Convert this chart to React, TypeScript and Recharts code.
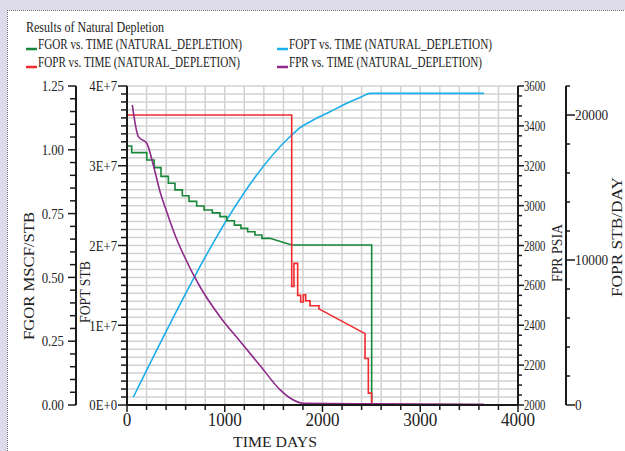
import { ComposedChart, Line, XAxis, YAxis, CartesianGrid } from "recharts";

const FONT = '"Liberation Serif", "Times New Roman", serif';

// FGOR (MSCF/STB); repeated days give the vertical parts of the steps
const fgorDays = [
  0, 48, 48, 202, 202, 279, 279, 348, 348, 423, 423, 491, 491, 566, 566, 634, 634, 713, 713, 788,
  788, 873, 873, 951, 951, 1020, 1020, 1098, 1098, 1166, 1166, 1234, 1234, 1309, 1309, 1380, 1380,
  1463, 1685, 2503, 2503,
];
const fgorValues = [
  1.015, 1.015, 0.989, 0.989, 0.96, 0.96, 0.93, 0.93, 0.896, 0.896, 0.869, 0.869, 0.843, 0.843,
  0.82, 0.82, 0.798, 0.798, 0.78, 0.78, 0.764, 0.764, 0.753, 0.753, 0.738, 0.738, 0.722, 0.722,
  0.705, 0.705, 0.692, 0.692, 0.679, 0.679, 0.666, 0.666, 0.653, 0.653, 0.627, 0.627, 0,
];

// FOPR (STB/DAY)
const foprDays = [
  0, 1685, 1685, 1708, 1708, 1746, 1746, 1777, 1777, 1804, 1804, 1828, 1828, 1872, 1872, 1964,
  1964, 2435, 2435, 2469, 2469, 2503, 2503,
];
const foprValues = [
  20000, 20000, 8180, 8180, 9770, 9770, 7560, 7560, 7100, 7100, 7600, 7600, 7190, 7190, 6850,
  6850, 6630, 4920, 3210, 3210, 820, 820, 0,
];

// FOPT (STB)
const foptDays = [64, 1685, 1770, 1906, 2077, 2248, 2401, 2486, 2503, 3652];
const foptValues = [0.97e6, 3.386e7, 3.477e7, 3.574e7, 3.678e7, 3.783e7, 3.866e7, 3.908e7, 3.908e7, 3.908e7];

// FPR (PSIA)
const fprDays = [54, 116, 202, 269, 338, 406, 491, 576, 747, 951, 1156, 1361, 1565, 1668, 1804, 2500, 3650];
const fprValues = [3505, 3346, 3313, 3204, 3070, 2970, 2853, 2756, 2593, 2443, 2320, 2198, 2077, 2035, 2009, 2006, 2004];

const timeLabels = [0, 1000, 2000, 3000, 4000];
const fgorLabels = [0, 0.25, 0.5, 0.75, 1.0, 1.25];
const foptLabels = [0, 1e7, 2e7, 3e7, 4e7];
const fprLabels = [2000, 2200, 2400, 2600, 2800, 3000, 3200, 3400, 3600];
const foprLabels = [0, 10000, 20000];

const legendItems = [
  { name: "FGOR vs. TIME (NATURAL_DEPLETION)", color: "#17873a", x: 26, y: 49, w: 204 },
  { name: "FOPR vs. TIME (NATURAL_DEPLETION)", color: "#f02a2e", x: 26, y: 67, w: 202 },
  { name: "FOPT vs. TIME (NATURAL_DEPLETION)", color: "#1aaeea", x: 277, y: 49, w: 203 },
  { name: "FPR vs. TIME (NATURAL_DEPLETION)", color: "#8e2a8a", x: 277, y: 67, w: 193 },
];

const pts = (days: number[], vals: number[]) => days.map((day, i) => ({ day, v: vals[i] }));
const range = (a: number, b: number, step: number) =>
  Array.from({ length: Math.round((b - a) / step) + 1 }, (_, i) => +(a + i * step).toFixed(6));

type TickOpts = {
  side: "left" | "right" | "bottom";
  majors: number[];
  fmt: (v: number) => string;
  major: number;
  minor: number;
  gap: number;
  size: number;
  sx: number;
};

function makeTick(o: TickOpts) {
  return (p: any) => {
    const { x, y, payload } = p;
    const v = payload.value as number;
    const isMajor = o.majors.some((m) => Math.abs(m - v) <= 1e-9 * Math.max(1, Math.abs(m)));
    const len = isMajor ? o.major : o.minor;
    if (o.side === "bottom") {
      return (
        <g>
          <line x1={x} x2={x} y1={y} y2={y + len} stroke="#1a1a1a" strokeWidth={1.5} />
          {isMajor && (
            <text
              transform={`translate(${x},${y + len + o.gap}) scale(${o.sx},1)`}
              textAnchor="middle"
              dy="0.8em"
              fontFamily={FONT}
              fontSize={o.size}
              fill="#222"
            >
              {o.fmt(v)}
            </text>
          )}
        </g>
      );
    }
    const dir = o.side === "left" ? -1 : 1;
    return (
      <g>
        <line x1={x} x2={x + dir * len} y1={y} y2={y} stroke="#1a1a1a" strokeWidth={1.5} />
        {isMajor && (
          <text
            transform={`translate(${x + dir * (len + o.gap)},${y}) scale(${o.sx},1)`}
            textAnchor={dir < 0 ? "end" : "start"}
            dy="0.35em"
            fontFamily={FONT}
            fontSize={o.size}
            fill="#222"
          >
            {o.fmt(v)}
          </text>
        )}
      </g>
    );
  };
}

const axisLine = { stroke: "#1a1a1a", strokeWidth: 2 };

export default function App() {
  return (
    <div style={{ position: "absolute", left: 0, top: 0, width: 625, height: 451, background: "#dedcea", overflow: "hidden" }}>
      <div
        style={{
          position: "absolute",
          left: 7,
          top: 10,
          width: 640,
          height: 460,
          background: "#fff",
          borderTop: "1px dotted #666",
          borderLeft: "1px dotted #666",
        }}
      />
      <div style={{ position: "absolute", left: 0, top: 0 }}>
        <ComposedChart width={625} height={451} margin={{ top: 86, right: 9, bottom: 0, left: 26 }}>
          <CartesianGrid xAxisId="t" yAxisId="a_fopt" stroke="#d2d2d2" strokeWidth={1.5} />
          <XAxis
            xAxisId="t"
            dataKey="day"
            type="number"
            domain={[0, 4000]}
            ticks={range(0, 4000, 200)}
            interval={0}
            height={46}
            tickSize={0}
            tickMargin={0}
            tickLine={false}
            axisLine={axisLine}
            tick={makeTick({ side: "bottom", majors: timeLabels, fmt: (v) => String(v), major: 7, minor: 5, gap: 0, size: 18, sx: 0.95 })}
          />
          <YAxis
            yAxisId="a_fopt"
            orientation="left"
            type="number"
            domain={[0, 4e7]}
            ticks={range(0, 4e7, 1e6)}
            interval={0}
            width={51}
            tickSize={0}
            tickMargin={0}
            tickLine={false}
            axisLine={axisLine}
            tick={makeTick({
              side: "left",
              majors: foptLabels,
              fmt: (v) => `${Math.round(v / 1e7)}E+${v === 0 ? 0 : 7}`,
              major: 9,
              minor: 6,
              gap: 1,
              size: 15,
              sx: 0.85,
            })}
          />
          <YAxis
            yAxisId="b_fgor"
            orientation="left"
            type="number"
            domain={[0, 1.25]}
            ticks={range(0, 1.25, 0.05)}
            interval={0}
            width={50}
            tickSize={0}
            tickMargin={0}
            tickLine={false}
            axisLine={axisLine}
            tick={makeTick({ side: "left", majors: fgorLabels, fmt: (v) => v.toFixed(2), major: 8, minor: 6, gap: 4, size: 15, sx: 0.85 })}
          />
          <YAxis
            yAxisId="a_fpr"
            orientation="right"
            type="number"
            domain={[2000, 3600]}
            ticks={range(2000, 3600, 50)}
            interval={0}
            width={48}
            tickSize={0}
            tickMargin={0}
            tickLine={false}
            axisLine={axisLine}
            tick={makeTick({ side: "right", majors: fprLabels, fmt: (v) => String(v), major: 6, minor: 4, gap: 0, size: 14.5, sx: 0.74 })}
          />
          <YAxis
            yAxisId="b_fopr"
            orientation="right"
            type="number"
            domain={[0, 22000]}
            ticks={range(0, 22000, 2000)}
            interval={0}
            width={50}
            tickSize={0}
            tickMargin={0}
            tickLine={false}
            axisLine={axisLine}
            tick={makeTick({ side: "right", majors: foprLabels, fmt: (v) => String(v), major: 9, minor: 4, gap: 0, size: 14, sx: 0.95 })}
          />
          <Line
            xAxisId="t"
            yAxisId="a_fopt"
            data={pts(foptDays, foptValues)}
            dataKey="v"
            type="monotone"
            stroke="#1aaeea"
            strokeWidth={1.6}
            dot={false}
            isAnimationActive={false}
          />
          <Line
            xAxisId="t"
            yAxisId="b_fgor"
            data={pts(fgorDays, fgorValues)}
            dataKey="v"
            type="linear"
            stroke="#17873a"
            strokeWidth={1.6}
            dot={false}
            isAnimationActive={false}
          />
          <Line
            xAxisId="t"
            yAxisId="b_fopr"
            data={pts(foprDays, foprValues)}
            dataKey="v"
            type="linear"
            stroke="#f02a2e"
            strokeWidth={1.6}
            dot={false}
            isAnimationActive={false}
          />
          <Line
            xAxisId="t"
            yAxisId="a_fpr"
            data={pts(fprDays, fprValues)}
            dataKey="v"
            type="monotone"
            stroke="#8e2a8a"
            strokeWidth={1.6}
            dot={false}
            isAnimationActive={false}
          />
        </ComposedChart>
      </div>
      <svg width={625} height={451} style={{ position: "absolute", left: 0, top: 0, pointerEvents: "none" }}>
        <g fontFamily={FONT} fill="#222">
          <text x={26} y={32} fontSize={14.5} textLength={138} lengthAdjust="spacingAndGlyphs">
            Results of Natural Depletion
          </text>
          {legendItems.map((it) => (
            <g key={it.name}>
              <line x1={it.x} x2={it.x + 11} y1={it.y} y2={it.y} stroke={it.color} strokeWidth={2.5} />
              <text x={it.x + 12} y={it.y} fontSize={14.5} textLength={it.w} lengthAdjust="spacingAndGlyphs">
                {it.name}
              </text>
            </g>
          ))}
          <text transform="translate(34,276) rotate(-90)" textAnchor="middle" fontSize={15} textLength={128} lengthAdjust="spacingAndGlyphs">
            FGOR  MSCF/STB
          </text>
          <text transform="translate(90,292) rotate(-90)" textAnchor="middle" fontSize={15} textLength={62} lengthAdjust="spacingAndGlyphs">
            FOPT  STB
          </text>
          <text transform="translate(562,253) rotate(-90)" textAnchor="middle" fontSize={14} textLength={58} lengthAdjust="spacingAndGlyphs">
            FPR  PSIA
          </text>
          <text transform="translate(622,237) rotate(-90)" textAnchor="middle" fontSize={15} textLength={120} lengthAdjust="spacingAndGlyphs">
            FOPR STB/DAY
          </text>
          <text x={275} y={447} textAnchor="middle" fontSize={15} textLength={84} lengthAdjust="spacingAndGlyphs">
            TIME  DAYS
          </text>
        </g>
      </svg>
    </div>
  );
}
